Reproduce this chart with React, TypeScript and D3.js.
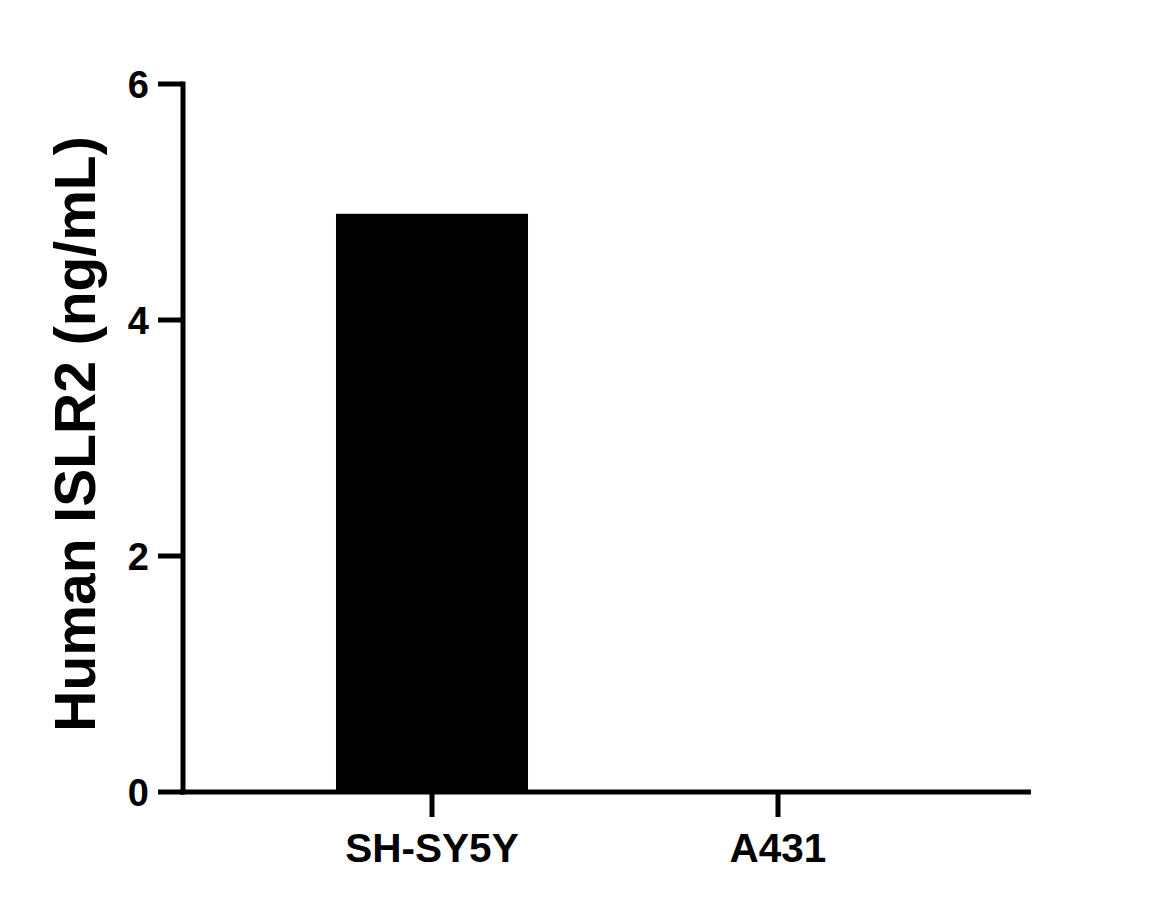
import React from "react";
import * as d3 from "d3";

const categories: string[] = ["SH-SY5Y", "A431"];
const values: number[] = [4.9, 0];
const yTicks: number[] = [0, 2, 4, 6];
const yLabel = "Human ISLR2 (ng/mL)";

export default function App() {
  const W = 1167, H = 908;
  const x0 = 183, x1 = 1031, yTop = 84, yBottom = 792;
  const y = d3.scaleLinear().domain([0, 6]).range([yBottom, yTop]);
  const x = d3.scaleBand<string>().domain(categories).range([259, 951]).paddingInner(0).paddingOuter(0);
  const barW = x.bandwidth() * 0.555;
  const font = "'Liberation Sans', Arial, sans-serif";
  return (
    <svg width={W} height={H} style={{ position: "absolute", left: 0, top: 0, background: "#fff" }}>
      {categories.map((c, i) => {
        const cx = (x(c) ?? 0) + x.bandwidth() / 2;
        return (
          <rect key={c} x={cx - barW / 2} y={y(values[i])} width={barW} height={y(0) - y(values[i])} fill="#000" />
        );
      })}
      <line x1={x0} x2={x0} y1={yTop - 2.5} y2={yBottom + 2.5} stroke="#000" strokeWidth={5} />
      <line x1={x0 - 2.5} x2={x1} y1={yBottom} y2={yBottom} stroke="#000" strokeWidth={5} />
      {yTicks.map((t) => (
        <g key={t}>
          <line x1={158} x2={x0} y1={y(t)} y2={y(t)} stroke="#000" strokeWidth={5} />
          <text x={149} y={y(t)} dy="0.36em" textAnchor="end" fontFamily={font} fontWeight="bold" fontSize={38}>
            {t}
          </text>
        </g>
      ))}
      {categories.map((c) => {
        const cx = (x(c) ?? 0) + x.bandwidth() / 2;
        return (
          <g key={c}>
            <line x1={cx} x2={cx} y1={yBottom} y2={817} stroke="#000" strokeWidth={5} />
            <text x={cx} y={862} textAnchor="middle" fontFamily={font} fontWeight="bold" fontSize={40.5}>
              {c}
            </text>
          </g>
        );
      })}
      <text
        transform={`translate(95, 434) rotate(-90)`}
        textAnchor="middle"
        fontFamily={font}
        fontWeight="bold"
        fontSize={57}
      >
        {yLabel}
      </text>
    </svg>
  );
}
